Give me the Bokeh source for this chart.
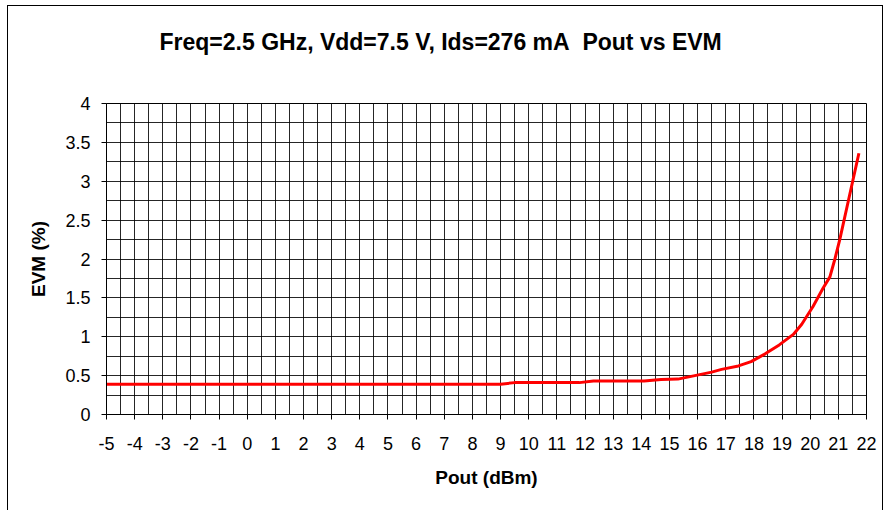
from bokeh.plotting import figure
from bokeh.models import Range1d, FixedTicker, SingleIntervalTicker, Title
from bokeh.embed import file_html
from bokeh.resources import INLINE

# ---- data ----
pout = [-5, 9, 9.5, 11.8, 12.3, 14.1, 14.7, 15.3, 15.9, 16.5, 16.85, 17.45,
        17.9, 18.4, 18.9, 19.4, 19.7, 20.1, 20.45, 20.7, 20.87, 21.05, 21.35, 21.73]
evm = [0.39, 0.39, 0.41, 0.41, 0.43, 0.43, 0.45, 0.455, 0.50, 0.545, 0.58, 0.625,
       0.68, 0.78, 0.895, 1.03, 1.16, 1.39, 1.62, 1.77, 1.99, 2.25, 2.74, 3.36]

x_ticks = list(range(-5, 23))
x_tick_labels = [str(v) for v in x_ticks]
y_ticks = [0, 0.5, 1, 1.5, 2, 2.5, 3, 3.5, 4]
y_tick_labels = ["0", "0.5", "1", "1.5", "2", "2.5", "3", "3.5", "4"]

title_text = "Freq=2.5 GHz, Vdd=7.5 V, Ids=276 mA\u00a0 Pout vs EVM"
x_label = "Pout (dBm)"
y_label = "EVM (%)"

FONT = "Liberation Sans"

p = figure(width=876, height=505, output_backend="svg", toolbar_location=None,
           x_range=Range1d(-5, 22), y_range=Range1d(0, 4),
           min_border_left=98, min_border_right=18, min_border_top=97, min_border_bottom=97,
           margin=(5, 0, 0, 7),
           styles={"border-top": "1px solid #000", "border-left": "1px solid #000",
                   "border-right": "1px solid #000"})
p.title = None

# blank spacer title between frame and the real title, then the real title
spacer = Title(text="\u00a0", text_font=FONT, text_font_size="10px", standoff=36)
p.add_layout(spacer, "above")
main_title = Title(text=title_text, align="left", offset=53, standoff=0,
                   text_font=FONT, text_font_size="23px", text_font_style="bold",
                   text_color="#000000")
p.add_layout(main_title, "above")

p.outline_line_color = "#000000"
p.background_fill_color = "#FFFFFF"
p.border_fill_color = "#FFFFFF"

# axes
p.xaxis.ticker = FixedTicker(ticks=x_ticks)
p.xaxis.major_label_overrides = {t: l for t, l in zip(x_ticks, x_tick_labels)}
p.yaxis.ticker = FixedTicker(ticks=y_ticks)
p.yaxis.major_label_overrides = {t: l for t, l in zip(y_ticks, y_tick_labels)}
for ax in (p.xaxis[0], p.yaxis[0]):
    ax.axis_line_color = "#000000"
    ax.major_tick_line_color = "#000000"
    ax.major_tick_in = 0
    ax.major_tick_out = 5
    ax.minor_tick_line_color = None
    ax.major_label_text_font = FONT
    ax.major_label_text_font_size = "18px"
    ax.major_label_text_color = "#000000"
    ax.axis_label_text_font = FONT
    ax.axis_label_text_font_size = "19px"
    ax.axis_label_text_font_style = "bold"
    ax.axis_label_text_color = "#000000"
p.xaxis.axis_label = x_label
p.yaxis.axis_label = y_label
p.xaxis.major_label_standoff = 17
p.yaxis.major_label_standoff = 11
p.xaxis.axis_label_standoff = 14
p.yaxis.axis_label_standoff = 13

# grids
p.xgrid.ticker = SingleIntervalTicker(interval=0.5, num_minor_ticks=0)
p.ygrid.ticker = SingleIntervalTicker(interval=0.25, num_minor_ticks=0)
for g in (p.xgrid[0], p.ygrid[0]):
    g.grid_line_color = "#000000"
    g.grid_line_alpha = 0.85
    g.grid_line_width = 1

p.line(pout, evm, line_color="#FF0000", line_width=3)

open("out.html", "w").write(file_html(p, INLINE))
